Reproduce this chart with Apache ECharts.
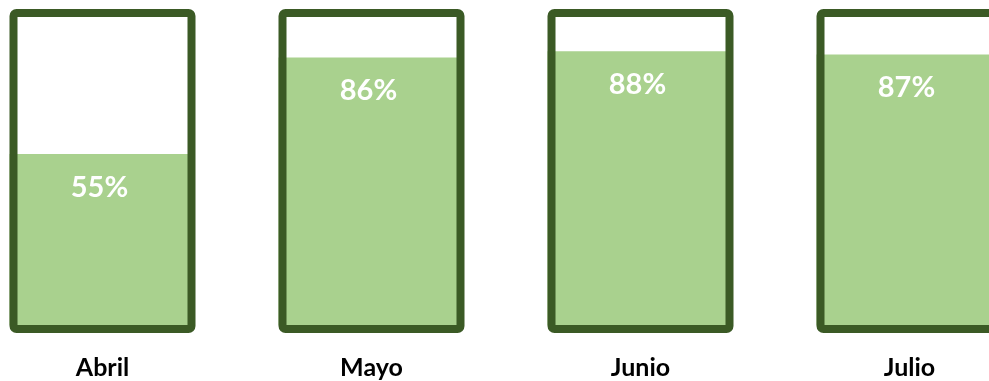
<!DOCTYPE html>
<html>
<head>
<meta charset="utf-8">
<script src="https://cdn.jsdelivr.net/npm/echarts@6/dist/echarts.min.js"></script>
<style>
  html, body { margin: 0; padding: 0; background: #fff; }
  #chart { width: 989px; height: 381px; }
</style>
</head>
<body>
<div id="chart"></div>
<script>
// meses y porcentaje alcanzado
const months = ['Abril', 'Mayo', 'Junio', 'Julio']
const percent = [55, 86, 88, 87]
const fullScale = [100, 100, 100, 100]

const chart = echarts.init(document.getElementById('chart'))

const option = {
  animation: false,
  backgroundColor: '#ffffff',
  grid: {
    left: -32,
    right: -55,
    top: 9,
    bottom: 48,
    containLabel: false,
    outerBoundsMode: 'none',
  },
  xAxis: {
    type: 'category',
    data: months,
    axisLine: { show: false },
    axisTick: { show: false },
    axisLabel: {
      color: '#000',
      fontFamily: 'Lato, "Open Sans", sans-serif',
      fontWeight: 'bold',
      fontSize: 25,
      margin: 22,
      interval: 0,
    },
  },
  yAxis: [
    // escala del relleno (el 0 queda bajo el borde inferior)
    { type: 'value', min: -2.5, max: 101.6, show: false },
    // escala del contorno
    { type: 'value', min: 0, max: 100, show: false },
  ],
  series: [
    {
      // relleno verde
      name: 'valor',
      type: 'bar',
      data: percent,
      yAxisIndex: 0,
      barWidth: 180,
      barGap: '-100%',
      itemStyle: { color: '#a9d18e' },
      label: {
        show: true,
        position: 'insideTop',
        distance: 19,
        formatter: '{c}%',
        color: '#fff',
        fontFamily: 'Lato, "Open Sans", sans-serif',
        fontWeight: 'bold',
        fontSize: 29,
      },
      z: 2,
    },
    {
      // contorno del recipiente
      name: 'total',
      type: 'bar',
      data: fullScale,
      yAxisIndex: 1,
      barWidth: 186,
      barGap: '-100%',
      itemStyle: {
        color: 'rgba(0,0,0,0)',
        borderColor: '#3b5a25',
        borderWidth: 8,
        borderJoin: 'round',
        borderRadius: 3,
      },
      silent: true,
      z: 3,
    },
  ],
}

chart.setOption(option)
</script>
</body>
</html>
